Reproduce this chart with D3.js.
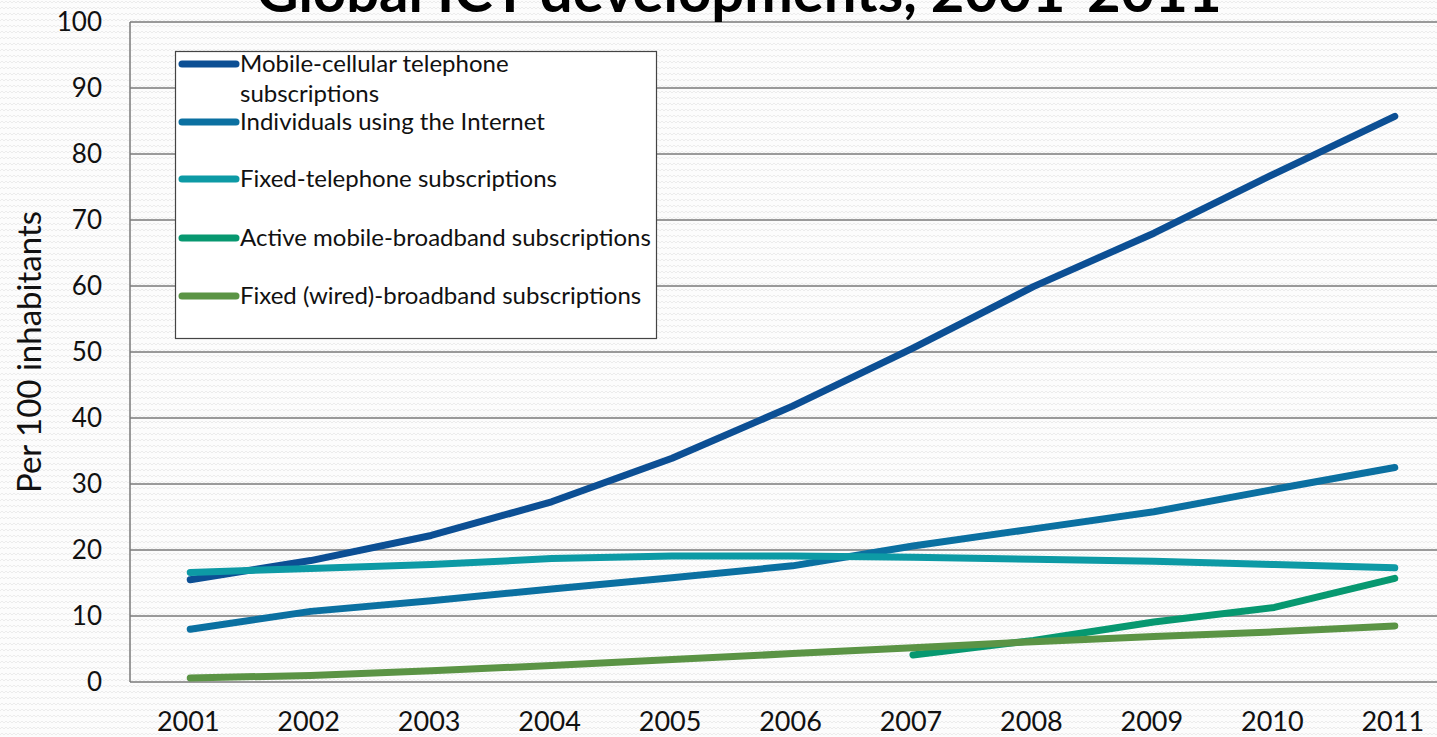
<!DOCTYPE html>
<html>
<head>
<meta charset="utf-8">
<script src="https://cdn.jsdelivr.net/npm/d3@7"></script>
<style>
  body { margin: 0; background: #fff; overflow: hidden; }
  svg { display: block; }
</style>
</head>
<body>
<div id="chart"></div>
<script>
var years = ["2001", "2002", "2003", "2004", "2005", "2006", "2007", "2008", "2009", "2010", "2011"];
var mobileCellular = [15.5, 18.4, 22.2, 27.3, 33.9, 41.8, 50.6, 59.9, 68.0, 77.0, 85.7];
var internetUsers = [8.0, 10.7, 12.3, 14.1, 15.8, 17.6, 20.6, 23.2, 25.8, 29.2, 32.5];
var fixedTelephone = [16.6, 17.2, 17.8, 18.7, 19.1, 19.1, 18.9, 18.6, 18.3, 17.8, 17.3];
var activeMobileBroadband = [null, null, null, null, null, null, 4.1, 6.3, 9.1, 11.3, 15.7];
var fixedBroadband = [0.6, 1.0, 1.7, 2.5, 3.4, 4.3, 5.2, 6.1, 6.9, 7.6, 8.5];
var seriesNames = [
    ["Mobile-cellular telephone", "subscriptions"],
    ["Individuals using the Internet"],
    ["Fixed-telephone subscriptions"],
    ["Active mobile-broadband subscriptions"],
    ["Fixed (wired)-broadband subscriptions"]
];
var seriesColors = ["#0c4f94", "#0b70a1", "#0d9aa5", "#079870", "#5b9445"];
var yTicks = [0, 10, 20, 30, 40, 50, 60, 70, 80, 90, 100];

var width = 1437, height = 737;
var margin = { top: 22, right: -18, bottom: 55, left: 130 };
var font = "Lato, 'Open Sans', sans-serif";

var svg = d3.select("#chart").append("svg")
    .attr("width", width)
    .attr("height", height);

// faint zigzag background texture
var defs = svg.append("defs");
var pat = defs.append("pattern")
    .attr("id", "zig")
    .attr("width", 8)
    .attr("height", 6)
    .attr("patternUnits", "userSpaceOnUse");
pat.append("path")
    .attr("d", "M0,3 L2,1 L4,3 L6,1 L8,3")
    .attr("fill", "none")
    .attr("stroke", "#ececec")
    .attr("stroke-width", 1);
svg.append("rect").attr("width", width).attr("height", height).attr("fill", "#fcfcfc");
svg.append("rect").attr("width", width).attr("height", height).attr("fill", "url(#zig)");

var x = d3.scaleBand()
    .domain(years)
    .range([margin.left, width - margin.right]);
var y = d3.scaleLinear()
    .domain([0, 100])
    .range([height - margin.bottom, margin.top]);

// gridlines
svg.append("g")
    .selectAll("line")
    .data(yTicks)
    .enter().append("line")
    .attr("x1", margin.left)
    .attr("x2", width - margin.right)
    .attr("y1", function(d) { return y(d); })
    .attr("y2", function(d) { return y(d); })
    .attr("stroke", "#7a7a7a")
    .attr("stroke-width", 1.5);

svg.append("line")
    .attr("x1", margin.left).attr("x2", margin.left)
    .attr("y1", y(0)).attr("y2", y(100))
    .attr("stroke", "#7a7a7a")
    .attr("stroke-width", 1.5);

// y tick labels
svg.append("g")
    .selectAll("text")
    .data(yTicks)
    .enter().append("text")
    .attr("x", 102)
    .attr("y", function(d) { return y(d); })
    .attr("dy", "0.35em")
    .attr("text-anchor", "end")
    .attr("font-family", font)
    .attr("font-size", 26)
    .attr("fill", "#111")
    .text(function(d) { return d; });

// x tick labels
svg.append("g")
    .selectAll("text")
    .data(years)
    .enter().append("text")
    .attr("x", function(d) { return x(d) + x.bandwidth() / 2 - 2; })
    .attr("y", 731)
    .attr("text-anchor", "middle")
    .attr("font-family", font)
    .attr("font-size", 27)
    .attr("fill", "#111")
    .text(function(d) { return d; });

// axis title
svg.append("text")
    .attr("transform", "translate(41," + 352 + ") rotate(-90)")
    .attr("text-anchor", "middle")
    .attr("font-family", font)
    .attr("font-size", 33)
    .attr("fill", "#111")
    .text("Per 100 inhabitants");

// chart title (cut off at top like the original)
svg.append("text")
    .attr("x", 739)
    .attr("y", 12)
    .attr("text-anchor", "middle")
    .attr("font-family", font)
    .attr("font-weight", "bold")
    .attr("font-size", 58)
    .attr("fill", "#000")
    .text("Global ICT developments, 2001-2011");

// lines
var allSeries = [mobileCellular, internetUsers, fixedTelephone, activeMobileBroadband, fixedBroadband];
var line = d3.line()
    .defined(function(d) { return d != null; })
    .x(function(d, i) { return x(years[i]) + x.bandwidth() / 2; })
    .y(function(d) { return y(d); });

svg.append("g")
    .selectAll("path")
    .data(allSeries)
    .enter().append("path")
    .attr("d", line)
    .attr("fill", "none")
    .attr("stroke", function(d, i) { return seriesColors[i]; })
    .attr("stroke-width", 7)
    .attr("stroke-linecap", "round")
    .attr("stroke-linejoin", "round");

// legend
var legendY = [64, 122, 179, 238, 296];
var legend = svg.append("g");
legend.append("rect")
    .attr("x", 175.5)
    .attr("y", 51.5)
    .attr("width", 481)
    .attr("height", 287)
    .attr("fill", "#fff")
    .attr("stroke", "#444")
    .attr("stroke-width", 1.2);

var item = legend.selectAll(".item")
    .data(seriesNames)
    .enter().append("g")
    .classed("item", true);

item.append("line")
    .attr("x1", 182)
    .attr("x2", 236)
    .attr("y1", function(d, i) { return legendY[i]; })
    .attr("y2", function(d, i) { return legendY[i]; })
    .attr("stroke", function(d, i) { return seriesColors[i]; })
    .attr("stroke-width", 7)
    .attr("stroke-linecap", "round");

item.append("text")
    .attr("font-family", font)
    .attr("font-size", 24)
    .attr("fill", "#111")
    .each(function(d, i) {
        var t = d3.select(this);
        d.forEach(function(s, k) {
            t.append("tspan")
                .attr("x", 240)
                .attr("y", legendY[i] + 8 + k * 30)
                .text(s);
        });
    });
</script>
</body>
</html>
